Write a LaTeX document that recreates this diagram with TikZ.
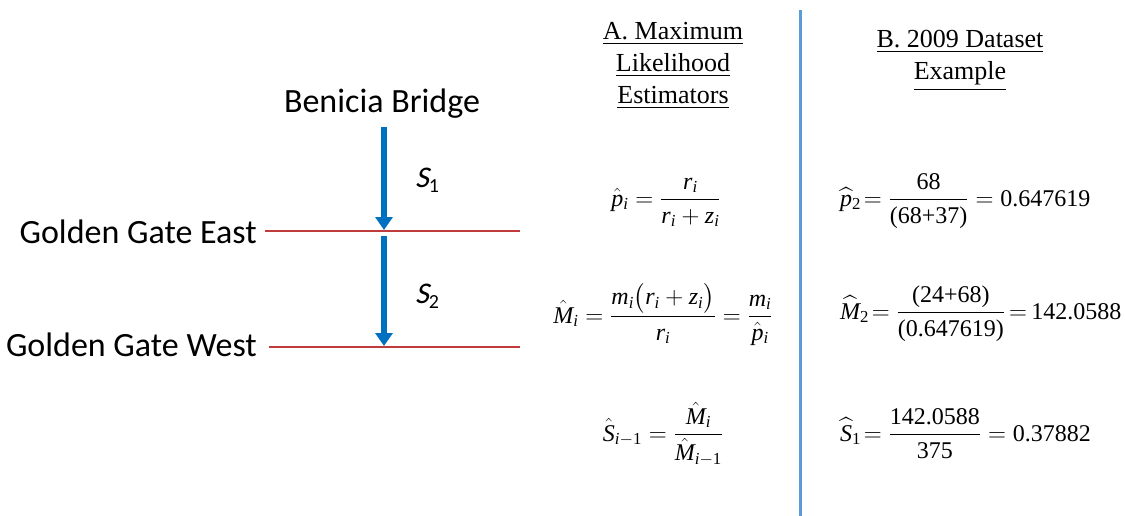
\documentclass[tikz,border=0pt]{standalone}
\usepackage{amsmath}
\usepackage{fontspec}
\setmainfont{Liberation Serif}
\newfontfamily\calibri{Carlito}
\newfontfamily\calibrisl{Carlito}[FakeSlant=0.22]
\usetikzlibrary{arrows.meta}
\definecolor{arrowblue}{RGB}{0,112,192}
\definecolor{lineRed}{RGB}{192,60,60}
\definecolor{dividerblue}{RGB}{91,155,213}
\newcommand{\mv}[1]{\mathit{#1}}
\newcommand{\tx}[1]{\text{#1}}
\begin{document}
\begin{tikzpicture}[x=1pt,y=-1pt,
  lbl/.style={font=\calibri\fontsize{34}{40}\selectfont, inner sep=0pt},
  slbl/.style={font=\calibrisl\fontsize{30}{34}\selectfont, inner sep=0pt, anchor=base west},
  head/.style={font=\fontsize{26}{30}\selectfont, inner sep=0pt, anchor=base},
  eqA/.style={font=\fontsize{24}{30}\selectfont, inner sep=0pt, anchor=base},
  eqB/.style={font=\fontsize{24}{30}\selectfont, inner sep=0pt, anchor=base west},
  flow/.style={arrowblue, line width=5.5pt, -{Triangle[length=13pt,width=17pt]}},
  gate/.style={lineRed, line width=2pt},
  divider/.style={dividerblue, line width=3pt},
]
\useasboundingbox (0,0) rectangle (1125,516);

% left: bridge labels
\node[lbl, anchor=base] (benicia) at (382,113) {Benicia Bridge};
\node[lbl, anchor=base east] (east) at (257,243) {Golden Gate East};
\node[lbl, anchor=base east] (west) at (257,356) {Golden Gate West};

\coordinate (a1s) at (384,127);
\coordinate (a1e) at (384,230);
\coordinate (a2s) at (384,236);
\coordinate (a2e) at (384,346);
\draw[flow] (a1s) -- (a1e);
\draw[flow] (a2s) -- (a2e);

\coordinate (eastL) at (265,231);
\coordinate (eastR) at (520,231);
\coordinate (westL) at (269,347);
\coordinate (westR) at (520,347);
\draw[gate] (eastL) -- (eastR);
\draw[gate] (westL) -- (westR);

\node[slbl] (s1) at (415,188) {S\raisebox{-5pt}{\calibri\fontsize{20}{20}\selectfont 1}};
\node[slbl] (s2) at (415,303) {S\raisebox{-5pt}{\calibri\fontsize{20}{20}\selectfont 2}};

% divider
\coordinate (dtop) at (800,10);
\coordinate (dbot) at (800,516);
\draw[divider] (dtop) -- (dbot);

% headings
\node[head] (ha1) at (673,40) {\underline{A. Maximum}};
\node[head] (ha2) at (673,72) {\underline{Likelihood}};
\node[head] (ha3) at (673,104) {\underline{Estimators}};
\node[head] (hb1) at (960,48) {\underline{B. 2009 Dataset}};
\node[head] (hb2) at (960,80) {\underline{Example}};

% column A formulas
\node[eqA] (pA) at (666,206)
  {$\displaystyle \hat{\mv{p}}_{\mv{i}}=\frac{\mv{r}_{\mv{i}}}{\mv{r}_{\mv{i}}+\mv{z}_{\mv{i}}}$};
\node[eqA] (mA) at (663,323)
  {$\displaystyle \hat{\mv{M}}_{\mv{i}}=\frac{\mv{m}_{\mv{i}}\bigl(\mv{r}_{\mv{i}}+\mv{z}_{\mv{i}}\bigr)}{\mv{r}_{\mv{i}}}=\frac{\mv{m}_{\mv{i}}}{\hat{\mv{p}}_{\mv{i}}}$};
\node[eqA] (sA) at (663,441)
  {$\displaystyle \hat{\mv{S}}_{\mv{i}-\tx{1}}=\frac{\hat{\mv{M}}_{\mv{i}}}{\hat{\mv{M}}_{\mv{i}-\tx{1}}}$};

% column B formulas
\node[eqB] (pB) at (840,206)
  {$\displaystyle \widehat{\mv{p}}_{\tx{2}}\!=\frac{\tx{68}}{\tx{(68+37)}}=\tx{0.647619}$};
\node[eqB] (mB) at (840,319)
  {$\displaystyle \widehat{\mv{M}}_{\tx{2}}\!=\frac{\tx{(24+68)}}{\tx{(0.647619)}}\,{=}\,\tx{142.0588}$};
\node[eqB] (sB) at (840,441)
  {$\displaystyle \widehat{\mv{S}}_{\tx{1}}\!=\frac{\tx{142.0588}}{\tx{375}}=\tx{0.37882}$};
\end{tikzpicture}
\end{document}
